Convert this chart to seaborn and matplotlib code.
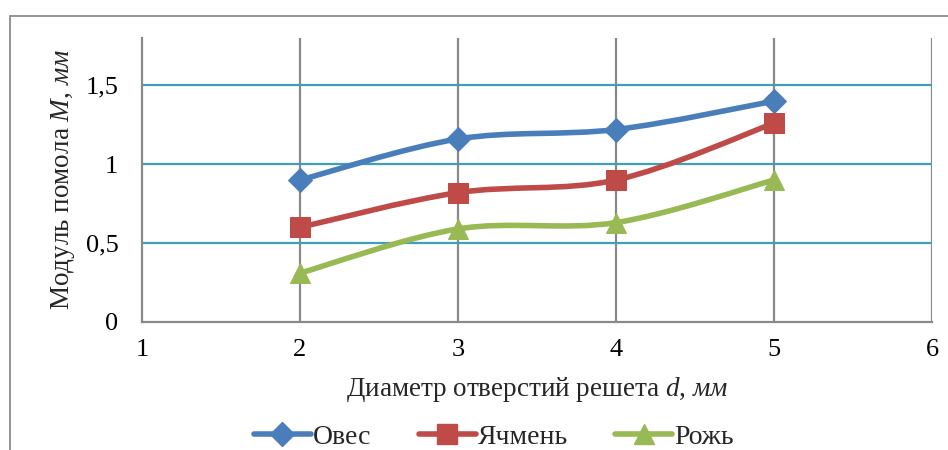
import numpy as np
import pandas as pd
import seaborn as sns
import matplotlib
matplotlib.use("Agg")
import matplotlib.pyplot as plt
from matplotlib.path import Path
from matplotlib.patches import PathPatch, Rectangle
from matplotlib.lines import Line2D

# Sieve hole diameter, mm
diameter = [2, 3, 4, 5]
# Grinding modulus, mm
oats = [0.90, 1.16, 1.22, 1.40]
barley = [0.60, 0.82, 0.90, 1.26]
rye = [0.31, 0.59, 0.63, 0.90]

series_names = ["Овес", "Ячмень", "Рожь"]
series_values = [oats, barley, rye]
colors = ["#4A7EBB", "#BE4B48", "#98B954"]
markers = ["D", "s", "^"]
marker_sizes = [12, 14, 15]

x_ticks = [1, 2, 3, 4, 5, 6]
y_ticks = [0, 0.5, 1, 1.5]
y_tick_labels = ["0", "0,5", "1", "1,5"]

sns.set_theme(style="white")
plt.rcParams["font.family"] = ["Liberation Serif", "DejaVu Serif"]
plt.rcParams["mathtext.fontset"] = "custom"
plt.rcParams["mathtext.it"] = "Liberation Serif:italic"
plt.rcParams["mathtext.rm"] = "Liberation Serif"

fig = plt.figure(figsize=(9.48, 4.5), dpi=100)
ax = fig.add_axes([142 / 948, 1 - 322 / 450, 790 / 948, 284 / 450])

long = pd.DataFrame({
    "d": diameter * 3,
    "M": oats + barley + rye,
    "crop": np.repeat(series_names, len(diameter)),
})


def smooth_path(xs, ys):
    """Catmull-Rom style cubic Bezier through the points."""
    pts = np.column_stack([xs, ys]).astype(float)
    ext = np.vstack([pts[0], pts, pts[-1]])
    verts = [pts[0]]
    codes = [Path.MOVETO]
    for i in range(1, len(ext) - 2):
        p0, p1, p2, p3 = ext[i - 1], ext[i], ext[i + 1], ext[i + 2]
        c1 = p1 + (p2 - p0) / 6.0
        c2 = p2 - (p3 - p1) / 6.0
        verts += [c1, c2, p2]
        codes += [Path.CURVE4] * 3
    return Path(verts, codes)


handles = []
for name, vals, col, mk, ms in zip(series_names, series_values, colors, markers, marker_sizes):
    ax.add_patch(PathPatch(smooth_path(diameter, vals), fill=False,
                           edgecolor=col, lw=4.0, capstyle="round",
                           joinstyle="round", zorder=3))
    sub = long[long["crop"] == name]
    sns.lineplot(data=sub, x="d", y="M", ax=ax, color=col, marker=mk,
                 markersize=ms, markeredgecolor=col, linewidth=0,
                 zorder=4, legend=False)
    handles.append(Line2D([], [], color=col, lw=4.0, marker=mk,
                          markersize=ms, markeredgecolor=col))

ax.set_xlim(1, 6)
ax.set_ylim(0, 1.8)
ax.set_xticks(x_ticks)
ax.set_xticklabels([str(t) for t in x_ticks])
ax.set_yticks(y_ticks)
ax.set_yticklabels(y_tick_labels)

# gridlines
for xv in x_ticks[1:]:
    ax.axvline(xv, color="#898989", lw=1.6, zorder=1)
for yv in y_ticks[1:]:
    ax.axhline(yv, color="#3E9FB7", lw=1.6, zorder=1)

for side in ["top", "right"]:
    ax.spines[side].set_visible(False)
for side in ["left", "bottom"]:
    ax.spines[side].set_color("#898989")
    ax.spines[side].set_linewidth(1.6)

ax.tick_params(axis="both", which="major", direction="out", length=6,
               width=1.6, color="#898989", labelsize=19, labelcolor="black")
ax.tick_params(axis="x", pad=6)
ax.tick_params(axis="y", pad=11)

ax.set_xlabel("Диаметр отверстий решета $d$, $мм$", fontsize=19.5, labelpad=10)
ax.set_ylabel("Модуль помола $M$, $мм$", fontsize=19.5, labelpad=6)

fig.legend(handles=handles, labels=series_names, loc="center",
           bbox_to_anchor=(494 / 948, 1 - 437 / 450), ncol=3, frameon=False,
           fontsize=20, handlelength=2.05, handletextpad=0.08,
           columnspacing=1.7, borderpad=0)

# chart area border
fig.add_artist(Rectangle((10 / 948, -0.1), 1.2, 1 - 16 / 450 + 0.1,
                         transform=fig.transFigure, fill=False,
                         edgecolor="#8C8C8C", lw=1.3))

fig.savefig("out.png", dpi=100, facecolor="white")
